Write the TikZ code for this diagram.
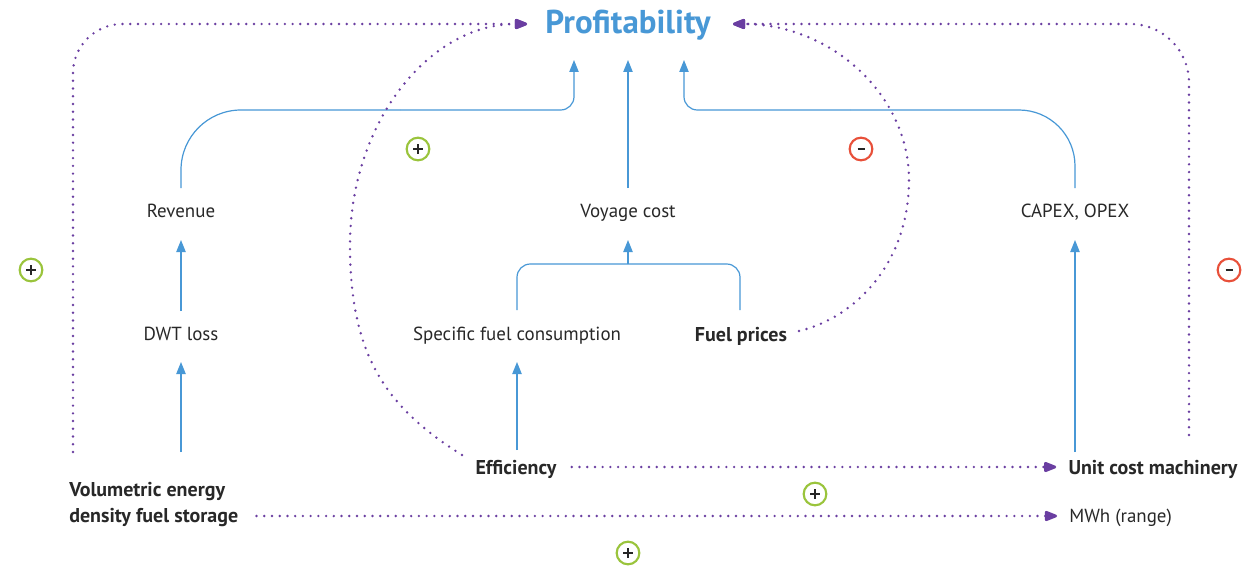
\documentclass[tikz,border=0pt]{standalone}
\usepackage{fontspec}
\setmainfont{PT Sans}
\usetikzlibrary{arrows.meta,calc}
\definecolor{pblue}{RGB}{72,152,214}
\definecolor{ppurple}{RGB}{106,62,161}
\definecolor{ptext}{RGB}{40,40,40}
\definecolor{pgreen}{RGB}{154,196,60}
\definecolor{pred}{RGB}{232,80,58}
\tikzset{
  lbl/.style={inner sep=0pt, text=ptext, font=\fontsize{14.2}{17}\selectfont, text height=10pt, text depth=0pt},
  blbl/.style={lbl, font=\fontsize{15}{18}\selectfont\bfseries, text height=10.5pt},
  bline/.style={draw=pblue, line width=0.9pt},
  barrow/.style={bline, -{Triangle[length=9pt,width=7pt]}},
  dline/.style={draw=ppurple, line width=2pt, line cap=round, dash pattern=on 0pt off 5.8pt},
  darrow/.style={dline, -{Triangle[length=11pt,width=8pt,round=false]}},
  sgn/.style={circle, line width=1.6pt, minimum size=17pt, inner sep=0pt},
  plussgn/.style={sgn, draw=pgreen},
  minussgn/.style={sgn, draw=pred},
  signstroke/.style={draw=black!85, line width=1.8pt}
}
\begin{document}
\begin{tikzpicture}[x=0.75pt,y=-0.75pt]
\path[use as bounding box, fill=white] (0,0) rectangle (1249,567);

% nodes
\node[inner sep=0pt, text=pblue, font=\fontsize{24.75}{29}\selectfont\bfseries, text height=17pt, text depth=0pt] (prof) at (628,22) {Profitability};
\node[lbl] (rev) at (181,211) {Revenue};
\node[lbl] (voy) at (628,211) {Voyage cost};
\node[lbl] (capex) at (1075,211) {CAPEX, OPEX};
\node[lbl] (dwt) at (181,334) {DWT loss};
\node[lbl] (sfc) at (517,334) {Specific fuel consumption};
\node[blbl] (fuel) at (741,334) {Fuel prices};
\node[blbl] (eff) at (516,467) {Efficiency};
\node[blbl] (ucm) at (1153,467) {Unit cost machinery};
\node[inner sep=0pt, text=ptext, font=\fontsize{15}{19.5}\selectfont\bfseries, align=left, anchor=west] (ved) at (69,505) {Volumetric energy\\density fuel storage};
\node[lbl, anchor=west] (mwh) at (1069,516) {MWh (range)};

% signs
\node[plussgn] (s1) at (418,149) {};
\node[minussgn] (s2) at (861,149) {};
\node[plussgn] (s3) at (31,270) {};
\node[minussgn] (s4) at (1229,270) {};
\node[plussgn] (s5) at (815,494) {};
\node[plussgn] (s6) at (628,553) {};
\foreach \s in {s1,s3,s5,s6}{
  \draw[signstroke] ($(\s)+(-5,0)$) -- ($(\s)+(5,0)$);
  \draw[signstroke] ($(\s)+(0,-5)$) -- ($(\s)+(0,5)$);
}
\foreach \s in {s2,s4}{
  \draw[signstroke, line width=2.2pt] ($(\s)+(-3.5,0)$) -- ($(\s)+(3.5,0)$);
}

% blue connectors
\coordinate (jl) at (400,110);
\draw[bline, rounded corners=45pt] ($(rev)+(0,-23)$) |- (jl);
\draw[barrow, rounded corners=10pt] (jl) -| ($(prof)+(-54,38)$);
\draw[barrow] ($(voy)+(0,-23)$) -- ($(prof)+(0,38)$);
\coordinate (jr) at (850,110);
\draw[bline, rounded corners=42pt] ($(capex)+(0,-23)$) |- (jr);
\draw[barrow, rounded corners=10pt] (jr) -| ($(prof)+(56,38)$);
\draw[barrow] ($(dwt)+(0,-23)$) -- ($(rev)+(0,29)$);
\draw[barrow] ($(dwt)+(0,118)$) -- ($(dwt)+(0,28)$);
\coordinate (bj) at (628,264);
\draw[bline, rounded corners=10pt] ($(sfc)+(0,-24)$) |- (bj) -| ($(fuel)+(-1,-24)$);
\draw[barrow] (bj) -- ($(voy)+(0,29)$);
\draw[barrow] ($(eff)+(1,-17)$) -- ($(sfc)+(0,28)$);
\draw[barrow] ($(ucm)+(-78,-15)$) -- ($(capex)+(0,29)$);

% purple dotted connectors
\draw[darrow, rounded corners=37pt] ($(ved.west)+(4,-53)$) |- ($(prof)+(-101,2)$);
\draw[darrow, rounded corners=44pt] ($(ucm)+(36,-32)$) |- ($(prof)+(105,2)$);
\draw[darrow] ($(eff)+(-54,-12)$) .. controls (385.5,407) and (350,355) .. (350,245) .. controls (350,123) and (429,24) .. ($(prof)+(-101,2)$);
\draw[darrow] ($(fuel)+(58,-3)$) .. controls (855,318) and (909,263) .. (909,180) .. controls (909,94) and (830,24) .. ($(prof)+(105,2)$);
\draw[darrow] ($(eff.east)+(15,0)$) -- ($(ucm.west)+(-12,0)$);
\draw[darrow] ($(ved.east)+(18,11)$) -- ($(mwh.west)+(-12,0)$);
\end{tikzpicture}
\end{document}
